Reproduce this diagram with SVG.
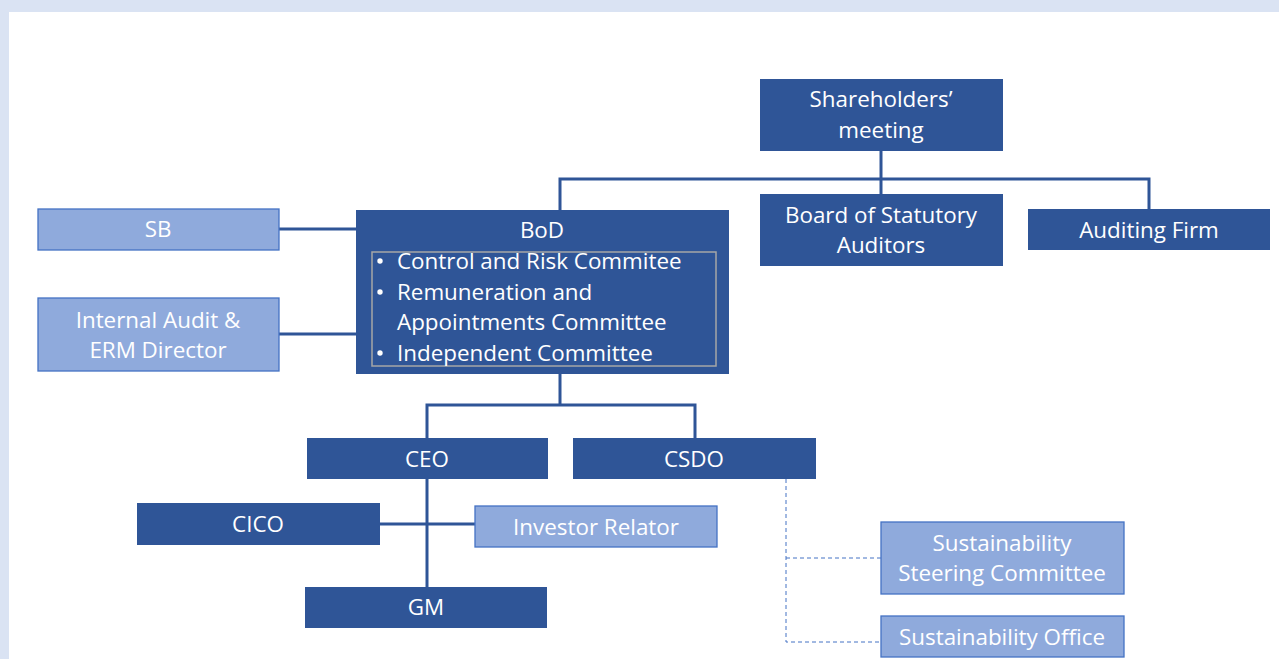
<svg xmlns="http://www.w3.org/2000/svg" width="1279" height="659" viewBox="0 0 1279 659">
<style>
.dark{fill:#2F5597;}
.light{fill:#8FAADC;stroke:#4472C4;stroke-width:1.3;}
.t{font-family:"Open Sans","Noto Sans","Liberation Sans",sans-serif;font-size:22.4px;fill:#FFFFFF;text-anchor:middle;}
.tl{font-family:"Open Sans","Noto Sans","Liberation Sans",sans-serif;font-size:22.4px;fill:#FFFFFF;}
.conn{fill:none;stroke:#2F5597;stroke-width:3;}
.dash{fill:none;stroke:#4472C4;stroke-width:1;stroke-dasharray:4 3;}
</style>
<rect x="0" y="0" width="1279" height="659" fill="#DAE3F3"/>
<rect x="9" y="12" width="1270" height="647" fill="#FFFFFF"/>
<g id="connectors">
<path class="conn" d="M881 151 V194"/>
<path class="conn" d="M560 210 V179 H1149 V209"/>
<path class="conn" d="M279 229 H356"/>
<path class="conn" d="M279 334 H356"/>
<path class="conn" d="M560 374 V405"/>
<path class="conn" d="M427 438 V405 H695 V438"/>
<path class="conn" d="M427 479 V587"/>
<path class="conn" d="M380 524 H475"/>
<path class="dash" d="M786 479 V642 H881"/>
<path class="dash" d="M786 558 H881"/>
</g>
<g id="shareholders">
<rect class="dark" x="760" y="79" width="243" height="72"/>
<text class="t" x="881" y="107">Shareholders’</text>
<text class="t" x="881" y="138">meeting</text>
</g>
<g id="statutory-auditors">
<rect class="dark" x="760" y="194" width="243" height="72"/>
<text class="t" x="881" y="223">Board of Statutory</text>
<text class="t" x="881" y="253">Auditors</text>
</g>
<g id="auditing-firm">
<rect class="dark" x="1028" y="209" width="242" height="41"/>
<text class="t" x="1149" y="238">Auditing Firm</text>
</g>
<g id="sb">
<rect class="light" x="38" y="209" width="241" height="41"/>
<text class="t" x="158" y="237">SB</text>
</g>
<g id="internal-audit">
<rect class="light" x="38" y="298" width="241" height="73"/>
<text class="t" x="158" y="328">Internal Audit &amp;</text>
<text class="t" x="158" y="358">ERM Director</text>
</g>
<g id="bod">
<rect class="dark" x="356" y="210" width="373" height="164"/>
<rect x="372" y="252" width="344" height="114" fill="none" stroke="#A6A6A6" stroke-width="1.5"/>
<text class="t" x="542" y="238">BoD</text>
<circle cx="380" cy="261" r="2.7" fill="#FFFFFF"/>
<circle cx="380" cy="292" r="2.7" fill="#FFFFFF"/>
<circle cx="380" cy="353" r="2.7" fill="#FFFFFF"/>
<text class="tl" x="397" y="269">Control and Risk Commitee</text>
<text class="tl" x="397" y="300">Remuneration and</text>
<text class="tl" x="397" y="330">Appointments Committee</text>
<text class="tl" x="397" y="361">Independent Committee</text>
</g>
<g id="ceo">
<rect class="dark" x="307" y="438" width="241" height="41"/>
<text class="t" x="427" y="467">CEO</text>
</g>
<g id="csdo">
<rect class="dark" x="573" y="438" width="243" height="41"/>
<text class="t" x="694" y="467">CSDO</text>
</g>
<g id="cico">
<rect class="dark" x="137" y="503" width="243" height="42"/>
<text class="t" x="258" y="532">CICO</text>
</g>
<g id="investor-relator">
<rect class="light" x="475" y="506" width="242" height="41"/>
<text class="t" x="596" y="535">Investor Relator</text>
</g>
<g id="gm">
<rect class="dark" x="305" y="587" width="242" height="41"/>
<text class="t" x="426" y="615">GM</text>
</g>
<g id="steering-committee">
<rect class="light" x="881" y="522" width="243" height="72"/>
<text class="t" x="1002" y="551">Sustainability</text>
<text class="t" x="1002" y="581">Steering Committee</text>
</g>
<g id="sustainability-office">
<rect class="light" x="881" y="616" width="243" height="41"/>
<text class="t" x="1002" y="645">Sustainability Office</text>
</g>
</svg>
